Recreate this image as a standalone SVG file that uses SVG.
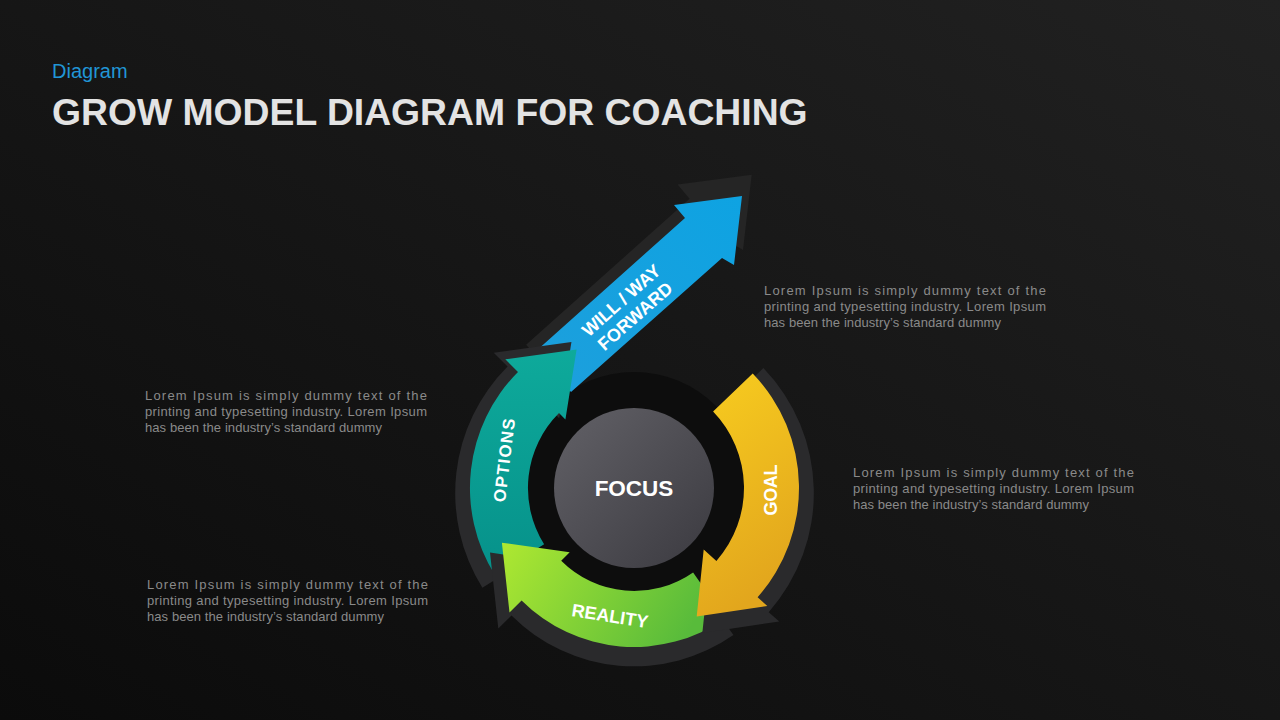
<svg xmlns="http://www.w3.org/2000/svg" xmlns:xlink="http://www.w3.org/1999/xlink" width="1280" height="720" viewBox="0 0 1280 720">
  <defs>
    <linearGradient id="bg" x1="1" y1="0" x2="0" y2="1">
      <stop offset="0" stop-color="#212121"/>
      <stop offset="1" stop-color="#0b0b0b"/>
    </linearGradient>
    <linearGradient id="gFocus" x1="0" y1="0" x2="1" y2="1">
      <stop offset="0" stop-color="#626167"/>
      <stop offset="1" stop-color="#3b3a40"/>
    </linearGradient>
    <linearGradient id="gBlue" x1="0" y1="1" x2="1" y2="0">
      <stop offset="0" stop-color="#1d9fdc"/>
      <stop offset="1" stop-color="#0ea3e2"/>
    </linearGradient>
    <linearGradient id="gTeal" x1="0" y1="0" x2="0" y2="1">
      <stop offset="0" stop-color="#0eaa9b"/>
      <stop offset="1" stop-color="#06918a"/>
    </linearGradient>
    <linearGradient id="gGreen" x1="0" y1="0" x2="1" y2="0.3">
      <stop offset="0" stop-color="#aee831"/>
      <stop offset="1" stop-color="#58bb3b"/>
    </linearGradient>
    <linearGradient id="gYellow" x1="0" y1="0" x2="0.3" y2="1">
      <stop offset="0" stop-color="#f8cd1f"/>
      <stop offset="1" stop-color="#e2a61d"/>
    </linearGradient>
    <path id="pBlue" d="M535,352 L685,218 L674,205 L742,196 L734,265 L722,258 L571,392 Z"/>
    <path id="pOptions" d="M494.9,574.9 A164,164 0 0 1 518,372 L505.3,359.3 L576.6,349.4 L565.4,419.4 L559,413 A106,106 0 0 0 544.1,544.2 Z"/>
    <path id="pReality" d="M725.2,618.3 A159,159 0 0 1 521.6,600.4 L509.5,612.4 L501.9,542.7 L569.7,552.3 L561.2,560.8 A103,103 0 0 0 693.1,572.4 Z"/>
    <path id="pGoal" d="M752.7,373.4 A165,165 0 0 1 757.6,597.3 L767.3,605.9 L696.7,616.5 L703.7,549.6 L716.4,560.9 A110,110 0 0 0 713.1,411.6 Z"/>
  </defs>
  <style>
    .shadow { fill: #2a2a2c; }
    .lbl { font-family: "Liberation Sans", Arial, sans-serif; font-weight: bold; fill: #ffffff; }
    .body { font-family: "Liberation Sans", Arial, sans-serif; font-size: 13px; fill: #8a8a8a; }
  </style>

  <rect x="0" y="0" width="1280" height="720" fill="url(#bg)"/>

  <text x="52" y="78" font-family="Liberation Sans, Arial, sans-serif" font-size="20" fill="#2196d6">Diagram</text>
  <text x="52" y="125" font-family="Liberation Sans, Arial, sans-serif" font-size="37.3" font-weight="bold" fill="#e3e3e3">GROW MODEL DIAGRAM FOR COACHING</text>

  <circle cx="634" cy="488" r="116" fill="#0d0d0d"/>

  <g id="will">
    <use xlink:href="#pBlue" fill="#252525" transform="translate(634,493) scale(1.09) translate(-634,-488)"/>
    <use xlink:href="#pBlue" fill="url(#gBlue)"/>
    <g transform="translate(628,308) rotate(-41.5)">
      <text class="lbl" x="0" y="-4" font-size="18" text-anchor="middle">WILL / WAY</text>
      <text class="lbl" x="0" y="17" font-size="18" text-anchor="middle">FORWARD</text>
    </g>
  </g>

  <g id="options">
    <use xlink:href="#pOptions" class="shadow" transform="translate(634,493) scale(1.09) translate(-634,-488)"/>
    <use xlink:href="#pOptions" fill="url(#gTeal)"/>
    <text class="lbl" font-size="17" text-anchor="middle" textLength="84" transform="translate(510,461) rotate(-83)">OPTIONS</text>
  </g>

  <g id="reality">
    <use xlink:href="#pReality" class="shadow" transform="translate(634,493) scale(1.09) translate(-634,-488)"/>
    <use xlink:href="#pReality" fill="url(#gGreen)"/>
    <text class="lbl" font-size="18" text-anchor="middle" transform="translate(609,622) rotate(9)">REALITY</text>
  </g>

  <g id="goal">
    <use xlink:href="#pGoal" class="shadow" transform="translate(634,493) scale(1.09) translate(-634,-488)"/>
    <use xlink:href="#pGoal" fill="url(#gYellow)"/>
    <text class="lbl" font-size="18" text-anchor="middle" textLength="51" transform="translate(776.5,490) rotate(-90)">GOAL</text>
  </g>

  <g id="focus">
    <circle cx="634" cy="488" r="80" fill="url(#gFocus)"/>
    <text class="lbl" x="634" y="496" font-size="22.5" text-anchor="middle">FOCUS</text>
  </g>

  <g id="text-will">
    <text class="body" x="764" y="295" textLength="282" lengthAdjust="spacing">Lorem Ipsum is simply dummy text of the</text>
    <text class="body" x="764" y="311" textLength="282" lengthAdjust="spacing">printing and typesetting industry. Lorem Ipsum</text>
    <text class="body" x="764" y="327" textLength="237" lengthAdjust="spacing">has been the industry’s standard dummy</text>
  </g>
  <g id="text-goal">
    <text class="body" x="853" y="477" textLength="281" lengthAdjust="spacing">Lorem Ipsum is simply dummy text of the</text>
    <text class="body" x="853" y="493" textLength="281" lengthAdjust="spacing">printing and typesetting industry. Lorem Ipsum</text>
    <text class="body" x="853" y="509" textLength="236" lengthAdjust="spacing">has been the industry’s standard dummy</text>
  </g>
  <g id="text-options">
    <text class="body" x="145" y="400" textLength="282" lengthAdjust="spacing">Lorem Ipsum is simply dummy text of the</text>
    <text class="body" x="145" y="416" textLength="282" lengthAdjust="spacing">printing and typesetting industry. Lorem Ipsum</text>
    <text class="body" x="145" y="432" textLength="237" lengthAdjust="spacing">has been the industry’s standard dummy</text>
  </g>
  <g id="text-reality">
    <text class="body" x="147" y="589" textLength="281" lengthAdjust="spacing">Lorem Ipsum is simply dummy text of the</text>
    <text class="body" x="147" y="605" textLength="281" lengthAdjust="spacing">printing and typesetting industry. Lorem Ipsum</text>
    <text class="body" x="147" y="621" textLength="237" lengthAdjust="spacing">has been the industry’s standard dummy</text>
  </g>
</svg>
